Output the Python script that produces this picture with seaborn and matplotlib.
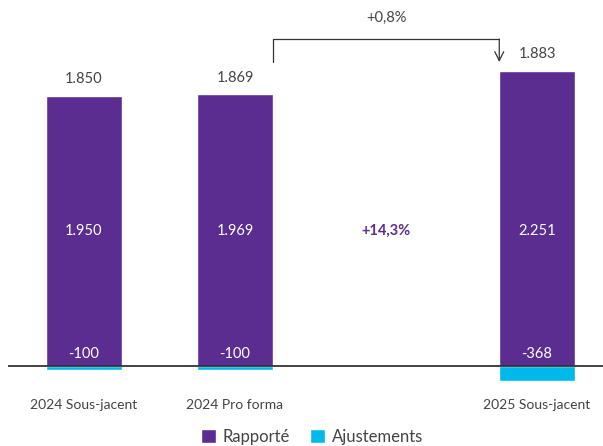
import numpy as np
import pandas as pd
import matplotlib
matplotlib.use("Agg")
import matplotlib.pyplot as plt
import matplotlib.transforms as mtransforms
from matplotlib.patches import Patch
import seaborn as sns

# ---- data ----
categories = ["2024 Sous-jacent", "2024 Pro forma", " ", "2025 Sous-jacent"]
bar_categories = ["2024 Sous-jacent", "2024 Pro forma", "2025 Sous-jacent"]
rapporte = [1950, 1969, 2251]
ajustements = [-100, -100, -368]
totals_labels = ["1.850", "1.869", "1.883"]
rapporte_labels = ["1.950", "1.969", "2.251"]
ajust_labels = ["-100", "-100", "-368"]
growth_total = "+0,8%"
growth_rapporte = "+14,3%"
series_names = ["Rapporté", "Ajustements"]

PURPLE = "#5C2D91"
CYAN = "#00B9EB"
GREY = "#444444"

sns.set_theme(style="white")
plt.rcParams["font.family"] = ["Lato", "DejaVu Sans"]

df = pd.DataFrame({
    "cat": bar_categories * 2,
    "value": rapporte + ajustements,
    "serie": [series_names[0]] * 3 + [series_names[1]] * 3,
})

fig = plt.figure(figsize=(6.03, 4.46), dpi=100)
ax = fig.add_axes([8 / 603, 51 / 446, 595 / 603, 395 / 446])

sns.barplot(data=df, x="cat", y="value", hue="serie", order=categories,
            hue_order=series_names, palette=[PURPLE, CYAN], dodge=False,
            width=0.5, saturation=1, legend=False, ax=ax, errorbar=None)

# non-linear display scale, as in the (not-to-scale) reference
P = 0.617
C = 0.0163

def fwd(v):
    v = np.asarray(v, dtype=float)
    return np.where(v >= 0, np.abs(v) ** P, C * v)

def inv(u):
    u = np.asarray(u, dtype=float)
    return np.where(u >= 0, np.abs(u) ** (1 / P), u / C)

ax.set_yscale("function", functions=(fwd, inv))
ax.set_ylim(-706, 3194)
ax.set_xlim(-0.503, 3.437)

for s in ax.spines.values():
    s.set_visible(False)
ax.axhline(0, color="#222222", lw=1.2, zorder=5)
ax.set_yticks([])
ax.set_xlabel("")
ax.set_ylabel("")
ax.tick_params(axis="x", length=0, pad=3, labelsize=10, labelcolor=GREY)

pos = [categories.index(c) for c in bar_categories]
trans = mtransforms.blended_transform_factory(ax.transData, ax.transAxes)

for i, p in enumerate(pos):
    ax.annotate(totals_labels[i], (p, rapporte[i]), xytext=(0, 7),
                textcoords="offset points", ha="center", va="bottom",
                fontsize=10.5, color=GREY)
    ax.text(p, 1 - 231 / 395, rapporte_labels[i], transform=trans,
            ha="center", va="center", fontsize=10.5, color="white")
    ax.text(p, 1 - 354 / 395, ajust_labels[i], transform=trans,
            ha="center", va="center", fontsize=10.5, color="white")

ax.text(2, 1 - 231 / 395, growth_rapporte, transform=trans, ha="center",
        va="center", fontsize=10.5, color=PURPLE, fontweight="bold")

# bracket between bar 2 and bar 3
x0 = pos[1] + 0.25
x1 = pos[2] - 0.25
yb = 1 - 39 / 395
ax.plot([x0, x0, x1], [1 - 62 / 395, yb, yb], transform=trans,
        color="#333333", lw=0.9, clip_on=False)
ax.annotate("", xy=(x1, 1 - 62 / 395), xytext=(x1, yb),
            xycoords=trans, textcoords=trans,
            arrowprops=dict(arrowstyle="->", color="#333333", lw=0.9,
                            shrinkA=0, shrinkB=0, mutation_scale=16))
ax.text((x0 + x1) / 2, 1 - 18 / 395, growth_total, transform=trans,
        ha="center", va="center", fontsize=10.5, color=GREY)

handles = [Patch(facecolor=PURPLE, label=series_names[0]),
           Patch(facecolor=CYAN, label=series_names[1])]
leg = fig.legend(handles=handles, loc="center",
                 bbox_to_anchor=(312 / 603, 1 - 437 / 446),
                 ncol=2, frameon=False, fontsize=12, handlelength=0.9,
                 handleheight=0.9, handletextpad=0.4, columnspacing=1.2,
                 labelcolor=GREY)

fig.savefig("out.png", dpi=100)
